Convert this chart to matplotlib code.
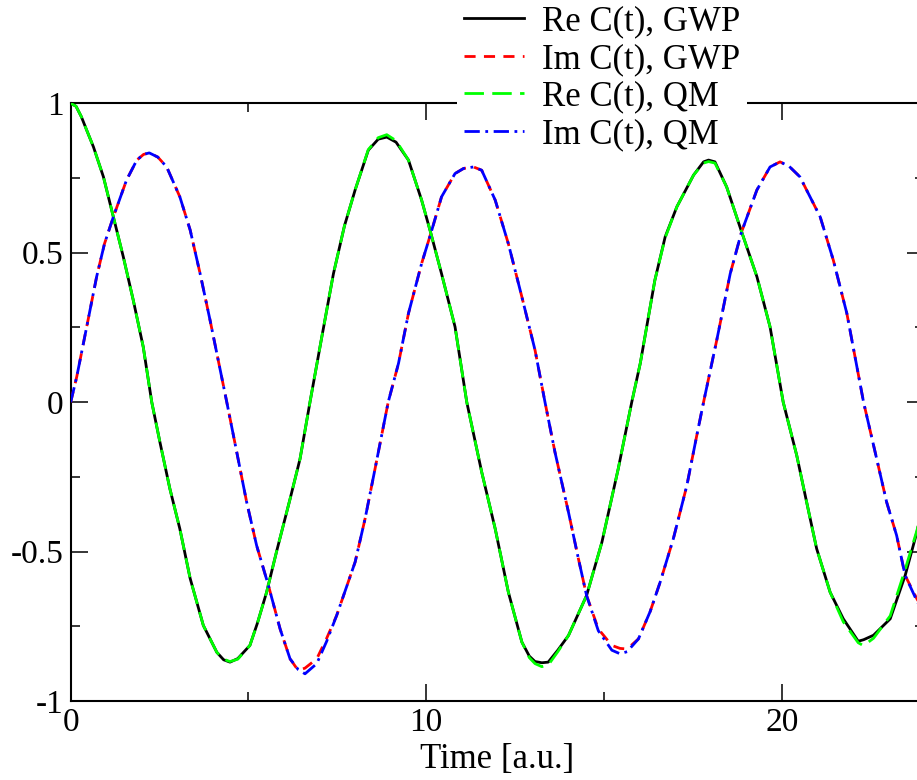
import matplotlib
matplotlib.use("Agg")
import matplotlib.pyplot as plt
from matplotlib.ticker import MultipleLocator, FixedLocator, FixedFormatter

# time grid and values
t_re = [0.0, 0.15, 0.30, 0.45, 0.64, 0.92, 1.20, 1.48, 1.76, 2.04, 2.28, 2.51, 2.79, 3.07,
        3.36, 3.73, 4.11, 4.30, 4.48, 4.70, 5.04, 5.25, 5.51, 5.79, 6.17, 6.45,
        6.73, 7.05, 7.39, 7.70, 8.00, 8.37, 8.65, 8.89, 9.15, 9.50, 9.87, 10.13,
        10.43, 10.81, 11.14, 11.56, 11.94, 12.31, 12.69, 12.90, 13.06, 13.25,
        13.43, 13.70, 14.00, 14.51, 14.94, 15.40, 15.78, 16.02, 16.20, 16.43,
        16.72, 17.05, 17.52, 17.80, 17.94, 18.12, 18.45, 18.87, 19.30, 19.67,
        20.04, 20.42, 20.70, 20.98, 21.36, 21.73, 22.15, 22.30, 22.58, 23.05,
        23.47, 23.80, 24.00]
re_gwp = [1.0, 0.99, 0.955, 0.91, 0.854, 0.754, 0.62, 0.486, 0.341, 0.185, 0.0, -0.134, -0.29, -0.424,
          -0.59, -0.747, -0.837, -0.862, -0.870, -0.858, -0.814, -0.74, -0.636, -0.50, -0.324, -0.19,
          0.0, 0.21, 0.43, 0.59, 0.71, 0.843, 0.88, 0.887, 0.87, 0.81, 0.676, 0.565,
          0.43, 0.252, 0.0, -0.234, -0.424, -0.636, -0.803, -0.85, -0.868, -0.872,
          -0.870, -0.83, -0.781, -0.647, -0.469, -0.223, 0.0, 0.13, 0.252, 0.408,
          0.553, 0.654, 0.76, 0.804, 0.81, 0.804, 0.72, 0.57, 0.42, 0.252,
          0.0, -0.178, -0.335, -0.49, -0.636, -0.725, -0.80, -0.795, -0.78, -0.725,
          -0.58, -0.435, -0.33]
re_qm = [1.0, 0.99, 0.955, 0.91, 0.854, 0.754, 0.62, 0.486, 0.341, 0.185, 0.0, -0.134, -0.29, -0.424,
         -0.59, -0.747, -0.837, -0.860, -0.868, -0.860, -0.814, -0.74, -0.636, -0.50, -0.324, -0.19,
         0.0, 0.21, 0.43, 0.59, 0.71, 0.845, 0.885, 0.895, 0.875, 0.81, 0.676, 0.565,
         0.43, 0.252, 0.0, -0.234, -0.424, -0.636, -0.803, -0.855, -0.875, -0.885,
         -0.880, -0.835, -0.781, -0.647, -0.469, -0.223, 0.0, 0.13, 0.252, 0.408,
         0.550, 0.654, 0.76, 0.80, 0.805, 0.80, 0.72, 0.57, 0.42, 0.252,
         0.0, -0.178, -0.335, -0.49, -0.636, -0.735, -0.805, -0.815, -0.79, -0.715,
         -0.56, -0.43, -0.33]

t_im = [0.0, 0.17, 0.45, 0.73, 0.95, 1.20, 1.57, 1.86, 2.05, 2.21, 2.45, 2.70, 3.07,
        3.36, 3.64, 3.92, 4.15, 4.39, 4.67, 4.95, 5.23, 5.56, 5.89, 6.17, 6.40,
        6.59, 6.92, 7.20, 7.48, 8.00, 8.28, 8.56, 8.93, 9.22, 9.50, 9.87, 10.13,
        10.43, 10.81, 11.05, 11.33, 11.56, 11.94, 12.31, 12.69, 13.06, 13.34, 13.62,
        14.00, 14.28, 14.51, 14.84, 15.22, 15.45, 15.65, 15.97, 16.30, 16.58, 16.95,
        17.33, 17.61, 17.80, 18.17, 18.55, 18.87, 19.30, 19.67, 19.95, 20.20, 20.51,
        21.08, 21.45, 21.83, 22.30, 22.67, 22.95, 23.23, 23.47, 23.80, 24.00]
im_gwp = [0.0, 0.085, 0.252, 0.42, 0.53, 0.62, 0.743, 0.81, 0.829, 0.834, 0.82, 0.787, 0.687,
          0.576, 0.43, 0.274, 0.14, 0.0, -0.167, -0.335, -0.48, -0.613, -0.759, -0.859, -0.898,
          -0.89, -0.859, -0.79, -0.714, -0.535, -0.39, -0.223, 0.0, 0.13, 0.297, 0.464, 0.565,
          0.687, 0.765, 0.782, 0.787, 0.776, 0.676, 0.53, 0.352, 0.174, 0.0, -0.167,
          -0.368, -0.524, -0.647, -0.759, -0.814, -0.824, -0.826, -0.792, -0.70, -0.602, -0.457,
          -0.279, -0.111, 0.0, 0.207, 0.43, 0.57, 0.71, 0.787, 0.804, 0.79, 0.754,
          0.62, 0.475, 0.297, 0.0, -0.19, -0.335, -0.446, -0.58, -0.658, -0.70]
im_qm = [0.0, 0.085, 0.252, 0.42, 0.53, 0.62, 0.743, 0.81, 0.829, 0.834, 0.82, 0.787, 0.687,
         0.576, 0.43, 0.274, 0.14, 0.0, -0.167, -0.335, -0.48, -0.613, -0.759, -0.859, -0.895,
         -0.909, -0.875, -0.80, -0.714, -0.535, -0.39, -0.223, 0.0, 0.13, 0.297, 0.464, 0.565,
         0.687, 0.765, 0.782, 0.787, 0.776, 0.676, 0.53, 0.352, 0.174, 0.0, -0.167,
         -0.368, -0.524, -0.647, -0.765, -0.83, -0.842, -0.835, -0.792, -0.70, -0.602, -0.457,
         -0.279, -0.111, 0.0, 0.207, 0.43, 0.57, 0.71, 0.787, 0.804, 0.79, 0.754,
         0.62, 0.475, 0.297, 0.0, -0.19, -0.335, -0.446, -0.58, -0.665, -0.71]

labels = ["Re C(t), GWP", "Im C(t), GWP", "Re C(t), QM", "Im C(t), QM"]
y_ticks = [-1, -0.5, 0, 0.5, 1]
y_ticklabels = ["-1", "-0.5", "0", "0.5", "1"]
x_ticks = [0, 10, 20]

plt.rcParams['font.family'] = ['Liberation Serif', 'DejaVu Serif']
plt.rcParams['axes.unicode_minus'] = False
plt.rcParams['lines.scale_dashes'] = False

fig = plt.figure(figsize=(9.17, 7.80), dpi=100)
ax = fig.add_axes([70.7/917, 79/780, (924-70.7)/917, (701-103.3)/780])

lw = 2.0
ax.plot(t_re, re_gwp, color='black', lw=lw, label=labels[0], zorder=3)
ax.plot(t_im, im_gwp, color='#ff0000', lw=lw, dashes=(8, 6), label=labels[1], zorder=4)
ax.plot(t_re, re_qm, color='#00ff00', lw=lw, dashes=(14, 6), label=labels[2], zorder=5)
ax.plot(t_im, im_qm, color='#0000ff', lw=lw, dashes=(11, 4, 2, 4), label=labels[3], zorder=6)

ax.set_xlim(0, 24)
ax.set_ylim(-1, 1)
ax.xaxis.set_major_locator(FixedLocator(x_ticks))
ax.xaxis.set_minor_locator(MultipleLocator(5))
ax.yaxis.set_major_locator(FixedLocator(y_ticks))
ax.yaxis.set_major_formatter(FixedFormatter(y_ticklabels))
ax.yaxis.set_minor_locator(MultipleLocator(0.25))

for s in ax.spines.values():
    s.set_linewidth(1.5)
ax.tick_params(which='both', direction='in', top=True, right=True, width=1.1, labelsize=24)
ax.tick_params(which='major', length=12, pad=5)
ax.tick_params(which='minor', length=6.5)

ax.set_xlabel("Time [a.u.]", fontsize=25, labelpad=3)

leg = ax.legend(loc='upper left', bbox_to_anchor=(457/917, 1.002),
                bbox_transform=fig.transFigure, fontsize=25, frameon=True,
                fancybox=False, borderpad=0.2, borderaxespad=0, labelspacing=0.13,
                handlelength=1.73, handletextpad=0.52)
leg.get_frame().set_facecolor('white')
leg.get_frame().set_edgecolor('none')
leg.get_frame().set_alpha(1)

fig.savefig("out.png", dpi=100)
